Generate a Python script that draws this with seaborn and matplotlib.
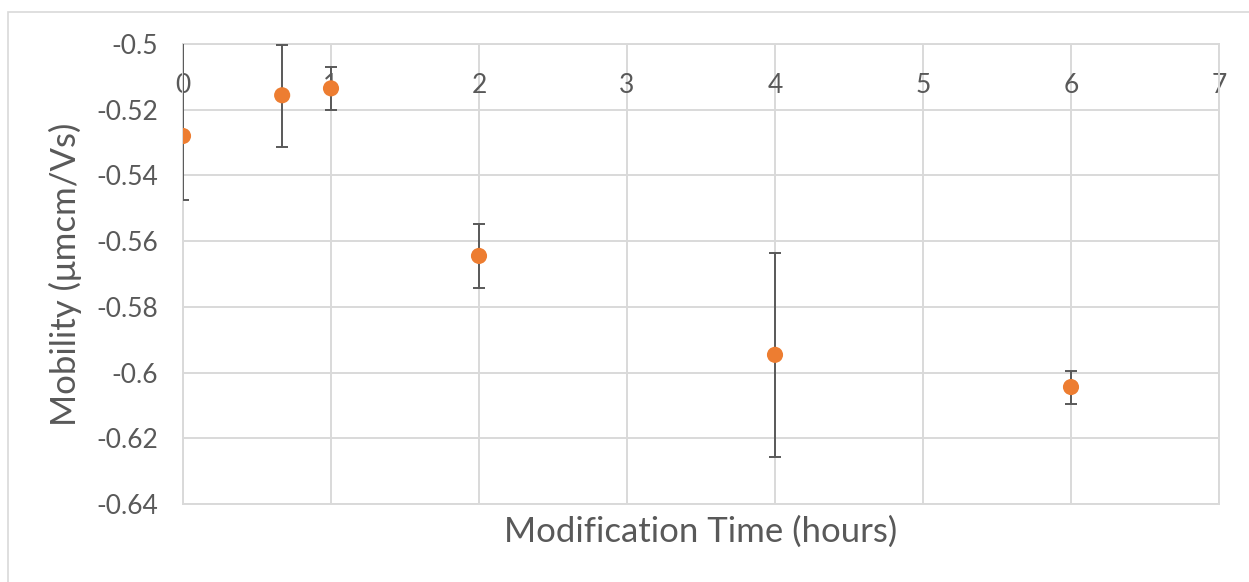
import matplotlib
matplotlib.use("Agg")
import matplotlib.pyplot as plt
from matplotlib.patches import Rectangle
import seaborn as sns
import pandas as pd

# Electrophoretic mobility versus modification time
hours = [0, 0.67, 1, 2, 4, 6]
mobility = [-0.528, -0.5156, -0.5135, -0.5645, -0.5946, -0.6044]
err_low = [0.0195, 0.0158, 0.0066, 0.0098, 0.0312, 0.0052]
err_high = [0.030, 0.0154, 0.0066, 0.0098, 0.0310, 0.0050]

y_ticks = [-0.64, -0.62, -0.6, -0.58, -0.56, -0.54, -0.52, -0.5]
y_tick_labels = ["-0.64", "-0.62", "-0.6", "-0.58", "-0.56", "-0.54", "-0.52", "-0.5"]
x_ticks = [0, 1, 2, 3, 4, 5, 6, 7]

df = pd.DataFrame({"hours": hours, "mobility": mobility})

sns.set_theme(style="whitegrid")
plt.rcParams["font.family"] = ["Lato", "DejaVu Sans"]

TEXT = "#595959"
GRID = "#D9D9D9"
ORANGE = "#ED7D31"

fig = plt.figure(figsize=(12.49, 5.82), dpi=100)
fig.patch.set_facecolor("white")
ax = fig.add_axes([183 / 1249, 1 - 504 / 582, (1219 - 183) / 1249, (504 - 44) / 582])
ax.set_facecolor("white")

ax.errorbar(hours, mobility, yerr=[err_low, err_high], fmt="none",
            ecolor="#595959", elinewidth=1.4, capsize=4.5, capthick=1.4, zorder=3)
sns.scatterplot(data=df, x="hours", y="mobility", ax=ax, color=ORANGE,
                s=135, edgecolor="none", zorder=4, legend=False)

ax.set_xlim(0, 7)
ax.set_ylim(-0.64, -0.5)
ax.set_xticks(x_ticks)
ax.set_xticklabels([str(t) for t in x_ticks])
ax.set_yticks(y_ticks)
ax.set_yticklabels(y_tick_labels)

ax.grid(True, color=GRID, linewidth=1.4)
for s in ax.spines.values():
    s.set_visible(True)
    s.set_color(GRID)
    s.set_linewidth(1.4)

ax.tick_params(axis="y", length=0, pad=18, labelsize=19, labelcolor=TEXT)
ax.tick_params(axis="x", length=0, bottom=False, labelbottom=False,
               top=False, labeltop=True, pad=-39, labelsize=19, labelcolor=TEXT)
ax.set_xlabel("")
ax.set_ylabel("")

fig.text(701 / 1249, 1 - 532 / 582, "Modification Time (hours)", ha="center",
         va="center", fontsize=25, color=TEXT)
fig.text(65 / 1249, 1 - 274 / 582, "Mobility (μmcm/Vs)", ha="center",
         va="center", rotation=90, fontsize=25, color=TEXT)

fig.add_artist(Rectangle((8 / 1249, -0.1), 2, 1 - 12 / 582 + 0.1,
                         transform=fig.transFigure, fill=False,
                         edgecolor=GRID, linewidth=1.2))

fig.savefig("out.png", dpi=100, facecolor="white")
